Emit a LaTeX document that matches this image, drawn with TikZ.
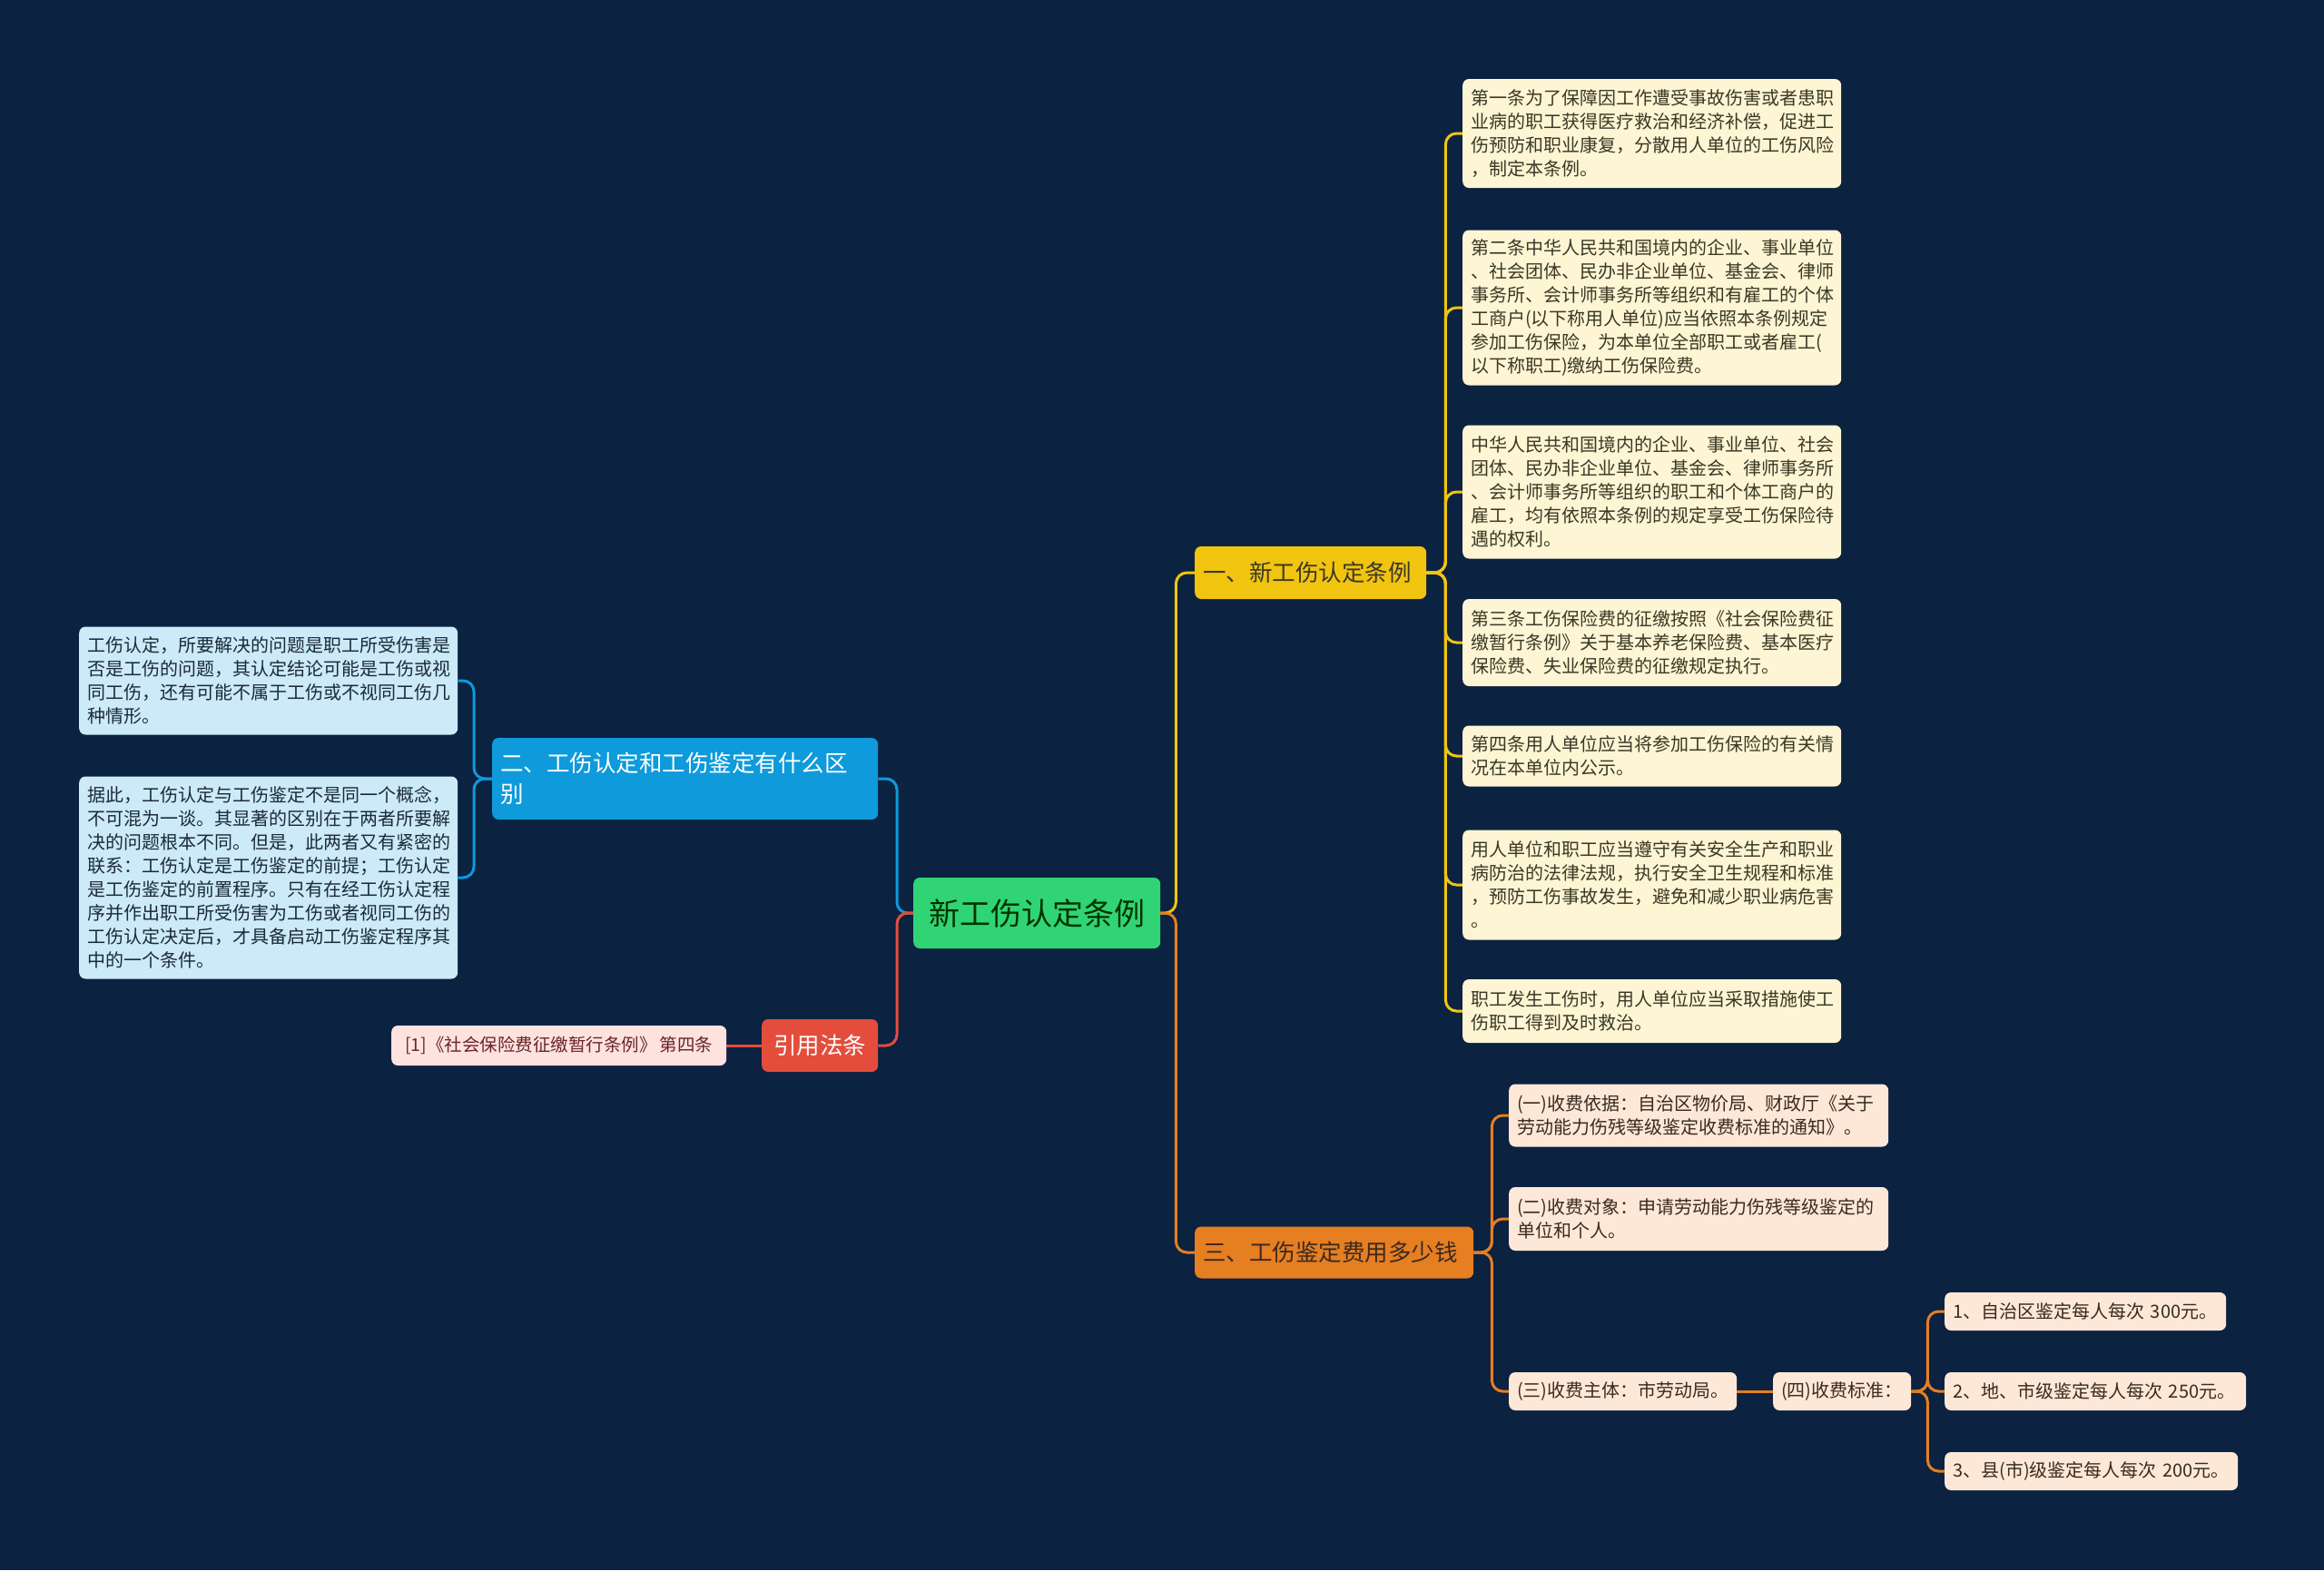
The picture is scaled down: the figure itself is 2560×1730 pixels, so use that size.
\documentclass[tikz,border=0pt]{standalone}
\usepackage{fontspec}
\setmainfont{Noto Sans CJK SC}
\newfontfamily\cjk{Noto Sans CJK SC}
\begin{document}
\begin{tikzpicture}[x=1pt,y=-1pt,
  every node/.style={font=\cjk},
  box/.style={rounded corners=7pt, anchor=west, inner xsep=9pt, inner ysep=0pt, align=left},
  leaf/.style={box, font=\cjk\fontsize{20}{26}\selectfont},
  yleaf/.style={leaf, fill=ycream, text=ytext},
  bleaf/.style={leaf, fill=bleafc, text=btext},
  oleaf/.style={leaf, fill=opeach, text=otext},
  con/.style={line width=3pt, rounded corners=12pt},
]
\definecolor{bg}{HTML}{0B2240}
\definecolor{rootg}{HTML}{31D474}
\definecolor{ylw}{HTML}{F1C40F}
\definecolor{org}{HTML}{E67E22}
\definecolor{blu}{HTML}{0E9ADB}
\definecolor{rd}{HTML}{E44D3C}
\definecolor{ycream}{HTML}{FDF5D3}
\definecolor{bleafc}{HTML}{CCEAF8}
\definecolor{opeach}{HTML}{FDE8D8}
\definecolor{pinkc}{HTML}{FDE2E0}
\definecolor{ytext}{HTML}{3A3826}
\definecolor{btext}{HTML}{1C2A38}
\definecolor{otext}{HTML}{3A2A1E}
\definecolor{ptext}{HTML}{6A2424}
\fill[bg] (0,0) rectangle (2560,1730);
\useasboundingbox (0,0) rectangle (2560,1730);

% root
\node[box, fill=rootg, text=black!80!green, font=\cjk\fontsize{34}{40}\selectfont, minimum width=272, minimum height=78, align=center, text width=254] (root) at (1006,1006) {新工伤认定条例};

% main branches
\node[box, fill=ylw, text=ytext, font=\cjk\fontsize{25.5}{34}\selectfont, text width=237, minimum height=58] (b1) at (1316,631) {一、新工伤认定条例};
\node[box, fill=org, text=otext, font=\cjk\fontsize{25.5}{34}\selectfont, text width=289, minimum height=57] (b3) at (1316,1380) {三、工伤鉴定费用多少钱};
\node[box, fill=blu, text=white, font=\cjk\fontsize{25.5}{34}\selectfont, text width=407, minimum height=90] (b2) at (542,858) {二、工伤认定和工伤鉴定有什么区\\别};
\node[box, fill=rd, text=white, font=\cjk\fontsize{25.5}{34}\selectfont, text width=110, minimum height=58, align=center] (b4) at (839,1152) {引用法条};

% red leaf
\node[box, fill=pinkc, text=ptext, font=\cjk\fontsize{19.5}{24}\selectfont, minimum width=369, minimum height=44, align=center] (p1) at (431,1152) {[1]《社会保险费征缴暂行条例》\,第四条};

% blue leaves
\node[bleaf, text width=399, minimum height=119] (bl1) at (87,750) {工伤认定，所要解决的问题是职工所受伤害是\\否是工伤的问题，其认定结论可能是工伤或视\\同工伤，还有可能不属于工伤或不视同工伤几\\种情形。};
\node[bleaf, text width=399, minimum height=223] (bl2) at (87,967) {据此，工伤认定与工伤鉴定不是同一个概念，\\不可混为一谈。其显著的区别在于两者所要解\\决的问题根本不同。但是，此两者又有紧密的\\联系：工伤认定是工伤鉴定的前提；工伤认定\\是工伤鉴定的前置程序。只有在经工伤认定程\\序并作出职工所受伤害为工伤或者视同工伤的\\工伤认定决定后，才具备启动工伤鉴定程序其\\中的一个条件。};

% yellow leaves
\node[yleaf, text width=399, minimum height=120] (y1) at (1611,147) {第一条为了保障因工作遭受事故伤害或者患职\\业病的职工获得医疗救治和经济补偿，促进工\\伤预防和职业康复，分散用人单位的工伤风险\\，制定本条例。};
\node[yleaf, text width=399, minimum height=171] (y2) at (1611,339) {第二条中华人民共和国境内的企业、事业单位\\、社会团体、民办非企业单位、基金会、律师\\事务所、会计师事务所等组织和有雇工的个体\\工商户(以下称用人单位)应当依照本条例规定\\参加工伤保险，为本单位全部职工或者雇工(\\以下称职工)缴纳工伤保险费。};
\node[yleaf, text width=399, minimum height=147] (y3) at (1611,542) {中华人民共和国境内的企业、事业单位、社会\\团体、民办非企业单位、基金会、律师事务所\\、会计师事务所等组织的职工和个体工商户的\\雇工，均有依照本条例的规定享受工伤保险待\\遇的权利。};
\node[yleaf, text width=399, minimum height=96] (y4) at (1611,708) {第三条工伤保险费的征缴按照《社会保险费征\\缴暂行条例》关于基本养老保险费、基本医疗\\保险费、失业保险费的征缴规定执行。};
\node[yleaf, text width=399, minimum height=67] (y5) at (1611,833) {第四条用人单位应当将参加工伤保险的有关情\\况在本单位内公示。};
\node[yleaf, text width=399, minimum height=121] (y6) at (1611,975) {用人单位和职工应当遵守有关安全生产和职业\\病防治的法律法规，执行安全卫生规程和标准\\，预防工伤事故发生，避免和减少职业病危害\\。};
\node[yleaf, text width=399, minimum height=70] (y7) at (1611,1114) {职工发生工伤时，用人单位应当采取措施使工\\伤职工得到及时救治。};

% orange leaves
\node[oleaf, text width=400, minimum height=69] (o1) at (1662,1229) {(一)收费依据：自治区物价局、财政厅《关于\\劳动能力伤残等级鉴定收费标准的通知》。};
\node[oleaf, text width=400, minimum height=70] (o2) at (1662,1343) {(二)收费对象：申请劳动能力伤残等级鉴定的\\单位和个人。};
\node[oleaf, text width=233, minimum height=42] (o3) at (1662,1533) {(三)收费主体：市劳动局。};
\node[oleaf, text width=134, minimum height=42] (o4) at (1953,1533) {(四)收费标准：};
\node[oleaf, text width=292, minimum height=42] (o5) at (2142,1445) {1、自治区鉴定每人每次 300元。};
\node[oleaf, text width=314, minimum height=42] (o6) at (2142,1533) {2、地、市级鉴定每人每次 250元。};
\node[oleaf, text width=305, minimum height=42] (o7) at (2142,1621) {3、县(市)级鉴定每人每次 200元。};

% connectors
\draw[con, ylw] (root.east) -- ++(17,0) |- (b1.west);
\draw[con, org] (root.east) -- ++(17,0) |- (b3.west);
\draw[con, blu] (root.west) -- ++(-18,0) |- (b2.east);
\draw[con, rd] (root.west) -- ++(-18,0) |- (b4.east);
\draw[con, rd] (b4.west) -- (p1.east);
\foreach \n in {bl1,bl2} \draw[con, blu] (b2.west) -- ++(-20,0) |- (\n.east);
\foreach \n in {y1,y2,y3,y4,y5,y6,y7} \draw[con, ylw] (b1.east) -- ++(21,0) |- (\n.west);
\foreach \n in {o1,o2,o3} \draw[con, org] (b3.east) -- ++(20,0) |- (\n.west);
\draw[con, org] (o3.east) -- (o4.west);
\foreach \n in {o5,o6,o7} \draw[con, org] (o4.east) -- ++(18,0) |- (\n.west);
\end{tikzpicture}
\end{document}
